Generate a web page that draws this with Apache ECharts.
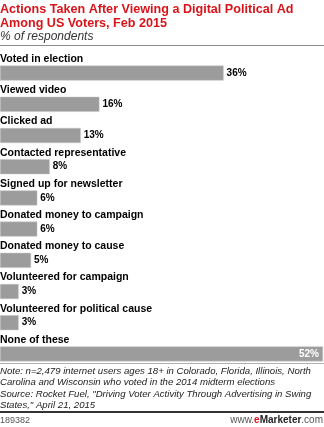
<!DOCTYPE html>
<html>
<head>
<meta charset="utf-8">
<script src="https://cdn.jsdelivr.net/npm/echarts@6/dist/echarts.min.js"></script>
<style>
  html, body { margin: 0; padding: 0; background: #fff; }
  #chart { width: 324px; height: 427px; }
</style>
</head>
<body>
<div id="chart"></div>
<script>
// Survey actions and share of respondents (%)
const categories = [
  'Voted in election',
  'Viewed video',
  'Clicked ad',
  'Contacted representative',
  'Signed up for newsletter',
  'Donated money to campaign',
  'Donated money to cause',
  'Volunteered for campaign',
  'Volunteered for political cause',
  'None of these'
];
const values = [36, 16, 13, 8, 6, 6, 5, 3, 3, 52];

const titleLines = [
  'Actions Taken After Viewing a Digital Political Ad',
  'Among US Voters, Feb 2015'
];
const subtitle = '% of respondents';
const noteLines = [
  'Note: n=2,479 internet users ages 18+ in Colorado, Florida, Illinois, North',
  'Carolina and Wisconsin who voted in the 2014 midterm elections',
  'Source: Rocket Fuel, "Driving Voter Activity Through Advertising in Swing',
  'States," April 21, 2015'
];
const chartId = '189382';

const FONT = '"Liberation Sans", Arial, sans-serif';
const chart = echarts.init(document.getElementById('chart'), null, { renderer: 'canvas' });

const barData = values.map((v, i) => {
  const last = i === values.length - 1;
  return {
    value: v,
    label: last
      ? { position: 'insideRight', color: '#fff', distance: 4 }
      : { position: 'right', color: '#000', distance: 3 }
  };
});

const graphics = [
  {
    type: 'text', left: 0, top: 3,
    style: { text: titleLines.join('\n'), font: 'bold 12.6px ' + FONT, fill: '#d8141b', lineHeight: 14 }
  },
  {
    type: 'text', left: 0, top: 31,
    style: { text: subtitle, font: 'italic 12px ' + FONT, fill: '#333' }
  },
  {
    type: 'rect', shape: { x: 0, y: 45, width: 324, height: 1 },
    style: { fill: '#8c8c8c' }
  },
  {
    type: 'rect', shape: { x: 0, y: 363, width: 324, height: 1 },
    style: { fill: '#b0b0b0' }
  },
  {
    type: 'text', left: 0, top: 365.5,
    style: { text: noteLines.join('\n'), font: 'italic 9.6px ' + FONT, fill: '#222', lineHeight: 11.5 }
  },
  {
    type: 'rect', shape: { x: 0, y: 411, width: 324, height: 2 },
    style: { fill: '#333' }
  },
  {
    type: 'text', left: 0, top: 416,
    style: { text: chartId, font: '9px ' + FONT, fill: '#555' }
  },
  {
    type: 'text', right: 1, top: 415,
    style: {
      text: '{w|www.}{e|e}{m|Marketer}{w|.com}',
      font: '10px ' + FONT,
      rich: {
        w: { font: '10px ' + FONT, fill: '#555' },
        e: { font: 'bold 10px ' + FONT, fill: '#d8141b' },
        m: { font: 'bold 10px ' + FONT, fill: '#222' }
      }
    }
  }
];

chart.setOption({
  animation: false,
  backgroundColor: '#fff',
  grid: { left: 0, right: 1, top: 57.5, height: 312, containLabel: false, outerBoundsMode: 'none' },
  xAxis: {
    type: 'value', min: 0, max: 52,
    show: false
  },
  yAxis: {
    type: 'category',
    inverse: true,
    data: categories,
    axisLine: { show: false },
    axisTick: { show: false },
    splitLine: { show: false },
    axisLabel: {
      inside: true,
      align: 'left',
      verticalAlign: 'bottom',
      padding: [0, 0, 8.5, 0],
      margin: 0,
      color: '#000',
      fontFamily: FONT,
      fontWeight: 'bold',
      fontSize: 10.5
    },
    z: 5
  },
  series: [{
    type: 'bar',
    data: barData,
    barWidth: 15,
    itemStyle: { color: '#9c9c9c', borderColor: '#c4c4c4', borderWidth: 0.5 },
    label: {
      show: true,
      formatter: '{c}%',
      fontFamily: FONT,
      fontWeight: 'bold',
      fontSize: 10
    }
  }],
  graphic: graphics
});
</script>
</body>
</html>
